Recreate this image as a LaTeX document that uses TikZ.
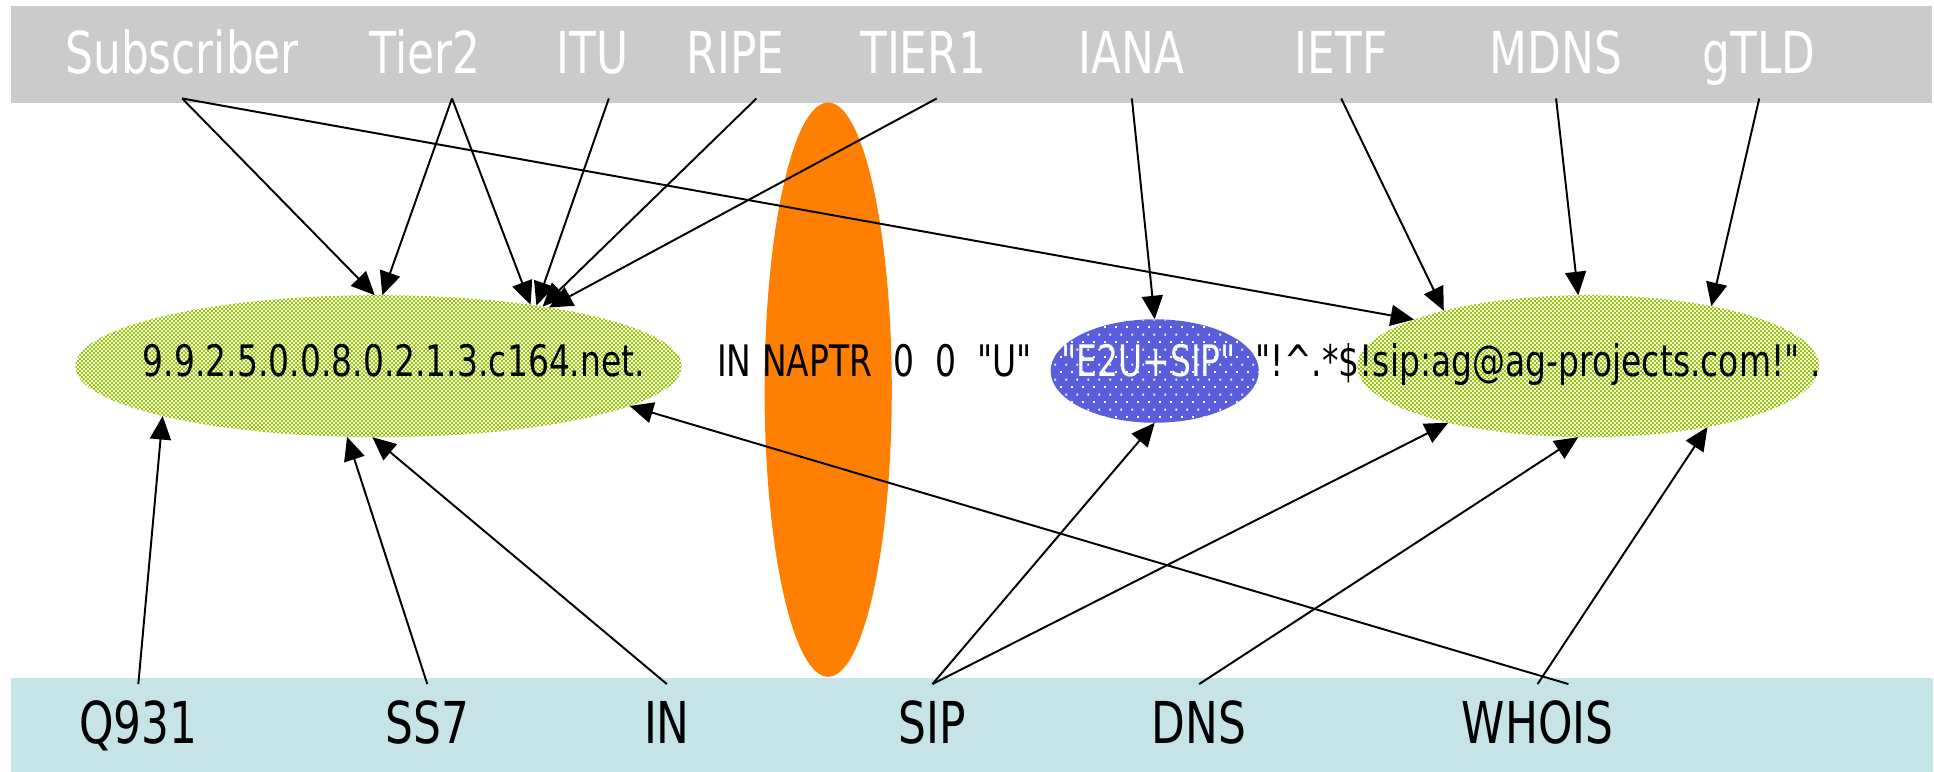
\documentclass[tikz,border=0pt]{standalone}
\usepackage{fontspec}
\newfontfamily\labfont[FakeStretch=0.76]{DejaVu Sans}
\usetikzlibrary{shapes.geometric,arrows.meta,patterns}

\definecolor{barGrey}{RGB}{203,203,203}
\definecolor{barBlue}{RGB}{198,228,232}
\definecolor{napOrange}{RGB}{255,127,0}
\definecolor{patGreen}{RGB}{150,200,0}
\definecolor{dotBlue}{RGB}{90,94,220}

\pgfdeclarepatternformonly{checks}{\pgfqpoint{0pt}{0pt}}{\pgfqpoint{1pt}{1pt}}{\pgfqpoint{1pt}{1pt}}{
  \pgfpathrectangle{\pgfqpoint{0pt}{0pt}}{\pgfqpoint{0.5pt}{0.5pt}}
  \pgfpathrectangle{\pgfqpoint{0.5pt}{0.5pt}}{\pgfqpoint{0.5pt}{0.5pt}}
  \pgfusepath{fill}}
\pgfdeclarepatternformonly{sprinkle}{\pgfqpoint{0pt}{0pt}}{\pgfqpoint{2.6pt}{3.4pt}}{\pgfqpoint{2.6pt}{3.4pt}}{
  \pgfpathrectangle{\pgfqpoint{0pt}{0pt}}{\pgfqpoint{0.45pt}{0.45pt}}
  \pgfpathrectangle{\pgfqpoint{1.3pt}{1.7pt}}{\pgfqpoint{0.45pt}{0.45pt}}
  \pgfusepath{fill}}

\begin{document}
\begin{tikzpicture}[
        head/.style={anchor=base,inner sep=0pt,text=white,text depth=0.196cm,
          font=\labfont\fontsize{13.3}{16}\selectfont},
        foot/.style={anchor=base,inner sep=0pt,text height=0.472cm,
          font=\labfont\fontsize{13.3}{16}\selectfont},
        rec/.style={inner sep=0pt,font=\labfont\fontsize{10}{12}\selectfont},
        green oval/.style={ellipse,inner sep=0pt,outer sep=0pt,pattern=checks,pattern color=patGreen},
        blue oval/.style={ellipse,inner sep=0pt,outer sep=0pt,preaction={fill=dotBlue},pattern=sprinkle,pattern color=white},
        link/.style={line width=0.45pt,-{Triangle[length=0.19cm,width=0.17cm]}}
        ]
    
        \useasboundingbox (0,0) rectangle (15.66,-6.25);
        \fill[barGrey] (0.09,-0.05) rectangle (15.64,-0.83);
        \fill[barBlue] (0.09,-5.487) rectangle (15.65,-6.25);

        \node (sep) at (6.706,-3.155) [ellipse,fill=napOrange,inner sep=0pt,outer sep=0pt,minimum width=1.03cm,minimum height=4.65cm] {};
        \node (enum) at (3.065,-2.965) [green oval,minimum width=4.91cm,minimum height=1.15cm] {};
        \node (e2u) at (9.35,-3.004) [blue oval,minimum width=1.686cm,minimum height=0.838cm] {};
        \node (uri) at (12.86,-2.965) [green oval,minimum width=3.74cm,minimum height=1.15cm] {};

        \node (enumtext) at (3.19,-3.05) [rec,anchor=base] {9.9.2.5.0.0.8.0.2.1.3.c164.net.};
        \node (rrtext) at (5.80,-3.05) [rec,anchor=base west] {IN NAPTR~~0~~0~~"U"};
        \node (e2utext) at (9.30,-3.05) [rec,anchor=base,text=white] {"E2U+SIP"};
        \node (uritext) at (10.16,-3.05) [rec,anchor=base west] {"!\textasciicircum.*\$!sip:ag@ag-projects.com!"~.};

        \node (subscriber) at (1.475,-0.594) [head] {Subscriber};
        \node (tier2) at (3.44,-0.594) [head] {Tier2};
        \node (itu) at (4.80,-0.594) [head] {ITU};
        \node (ripe) at (5.955,-0.594) [head] {RIPE};
        \node (tierone) at (7.475,-0.594) [head] {TIER1};
        \node (iana) at (9.165,-0.594) [head] {IANA};
        \node (ietf) at (10.86,-0.594) [head] {IETF};
        \node (mdns) at (12.60,-0.594) [head] {MDNS};
        \node (gtld) at (14.245,-0.594) [head] {gTLD};

        \node (q931) at (1.12,-6.018) [foot] {Q931};
        \node (ss7) at (3.46,-6.018) [foot] {SS7};
        \node (innet) at (5.40,-6.018) [foot] {IN};
        \node (sip) at (7.55,-6.018) [foot] {SIP};
        \node (dns) at (9.71,-6.018) [foot] {DNS};
        \node (whois) at (12.45,-6.018) [foot] {WHOIS};

        \draw[link] (subscriber.south) to (enum.93);
        \draw[link] (subscriber.south) to (uri.165);
        \draw[link] ([xshift=.22cm]tier2.south) to (enum.87);
        \draw[link] ([xshift=.22cm]tier2.south) to (enum.22);
        \draw[link] ([xshift=.13cm]itu.south) to (enum.21);
        \draw[link] ([xshift=.17cm]ripe.south) to (enum.20);
        \draw[link] ([xshift=.11cm]tierone.south) to (enum.19);
        \draw[link] (iana.south) to (e2u.north);
        \draw[link] (ietf.south) to (uri.159);
        \draw[link] (mdns.south) to (uri.98);
        \draw[link] (gtld.south) to (uri.26);
        \draw[link] (q931.north) to (enum.193);
        \draw[link] (ss7.north) to (enum.246);
        \draw[link] (innet.north) to (enum.265);
        \draw[link] (sip.north) to (e2u.south);
        \draw[link] (sip.north) to (uri.202);
        \draw[link] (dns.north) to (uri.262);
        \draw[link] (whois.north) to (uri.333);
        \draw[link] ([xshift=.25cm]whois.north) to (enum.351);
      \end{tikzpicture}
\end{document}
